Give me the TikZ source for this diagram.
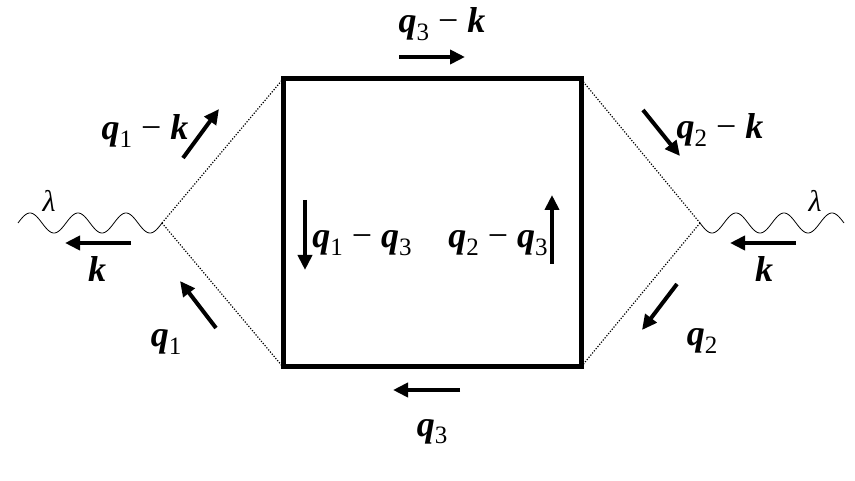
\documentclass[tikz,border=0pt]{standalone}
\usepackage{fontspec}
\setmainfont{Liberation Serif}
\usetikzlibrary{arrows.meta}

\newcommand{\bv}[1]{\textbf{\textit{#1}}}
\newcommand{\bsub}[2]{\bv{#1}\raisebox{-0.22em}{\fontsize{25}{25}\selectfont #2}}
\newcommand{\mns}{\hspace{0.25em}−\hspace{0.25em}}

\begin{document}
\begin{tikzpicture}[x=1pt, y=-1pt]
\tikzset{
  loop/.style={line width=5pt, line join=miter},
  scalar/.style={line width=1.2pt, dash pattern=on 1.2pt off 1.6pt},
  photon/.style={line width=0.8pt},
  mom/.style={line width=4pt, -{Triangle[length=15pt, width=14pt]}},
  lab/.style={anchor=base, inner sep=0pt, font=\fontsize{36}{40}\selectfont},
  lam/.style={anchor=base, inner sep=0pt, font=\fontsize{30}{32}\selectfont\itshape}
}
\useasboundingbox (0,0) rectangle (855,481);
% box corners and vertices
\coordinate (tl) at (283,79);
\coordinate (tr) at (581,79);
\coordinate (br) at (581,367);
\coordinate (bl) at (283,367);
\coordinate (vL) at (162,223);
\coordinate (vR) at (700,223);
\coordinate (eL) at (18,223);
\coordinate (eR) at (844,223);
% photons, three wavelengths each
\begin{scope}[shift={(eL)}]
  \draw [photon] plot [domain=0:144, samples=145, smooth] (\x,{-10*sin(7.5*\x)});
\end{scope}
\begin{scope}[shift={(vR)}]
  \draw [photon] plot [domain=0:144, samples=145, smooth] (\x,{10*sin(7.5*\x)});
\end{scope}
% scalar lines
\draw [scalar] (vL) -- (tl);
\draw [scalar] (vL) -- (bl);
\draw [scalar] (vR) -- (tr);
\draw [scalar] (vR) -- (br);
% the loop
\draw [loop] (tl) -- (tr) -- (br) -- (bl) -- cycle;
% momentum arrows
\draw [mom] (399,57) -- (465,57);
\draw [mom] (460,390) -- (393,390);
\draw [mom] (305,200) -- (305,270);
\draw [mom] (552,264) -- (552,195);
\draw [mom] (183,158) -- (219,109);
\draw [mom] (216,328) -- (180,281);
\draw [mom] (131,243) -- (65,243);
\draw [mom] (643,110) -- (680,156);
\draw [mom] (677,284) -- (642,330);
\draw [mom] (796,243) -- (730,243);
% labels
\node [lab] (l3k) at (442,33) {\bsub{q}{3}\mns\bv{k}};
\node [lab] (l3) at (432,436) {\bsub{q}{3}};
\node [lab] (l13) at (362,248) {\bsub{q}{1}\mns\bsub{q}{3}};
\node [lab] (l23) at (498,248) {\bsub{q}{2}\mns\bsub{q}{3}};
\node [lab] (l1k) at (145,140) {\bsub{q}{1}\mns\bv{k}};
\node [lab] (l2k) at (720,139) {\bsub{q}{2}\mns\bv{k}};
\node [lab] (l1) at (166,347) {\bsub{q}{1}};
\node [lab] (l2) at (702,346) {\bsub{q}{2}};
\node [lab] (kL) at (97,282) {\bv{k}};
\node [lab] (kR) at (764,282) {\bv{k}};
\node [lam] (lamL) at (49,212) {λ};
\node [lam] (lamR) at (815,212) {λ};
\end{tikzpicture}
\end{document}
